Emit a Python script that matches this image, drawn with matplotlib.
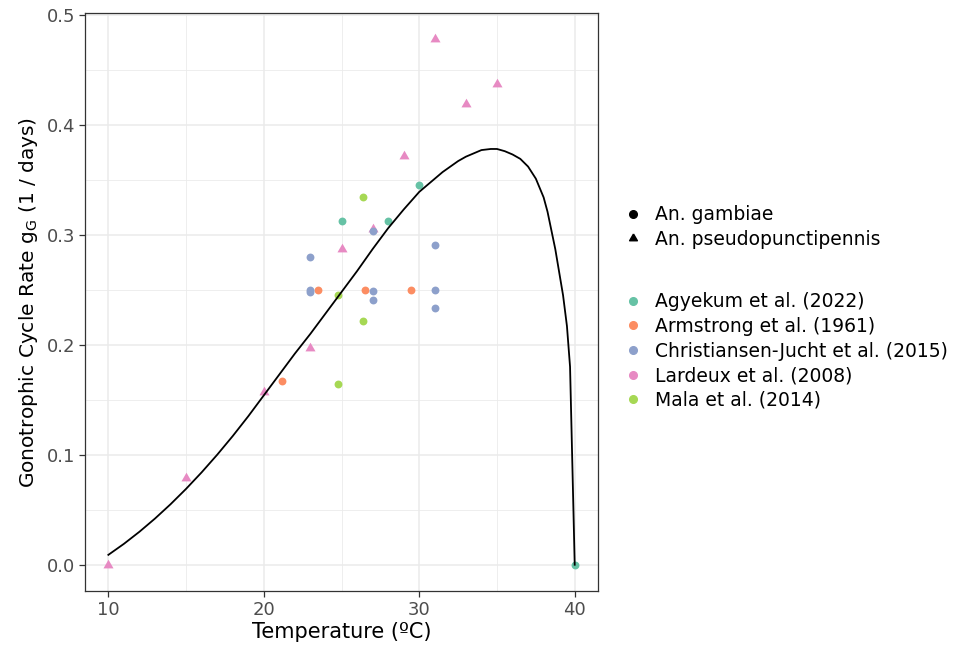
import matplotlib
matplotlib.use("Agg")
import matplotlib.pyplot as plt
from matplotlib.lines import Line2D

plt.rcParams['font.family'] = ['DejaVu Sans']

# observed data, one set per study
agy_t = [25, 28, 30, 40]
agy_g = [0.3125, 0.3125, 0.345, 0.0]

arm_t = [21.2, 23.5, 26.5, 29.5]
arm_g = [0.167, 0.25, 0.25, 0.25]

chr_t = [23, 23, 23, 27, 27, 27, 31, 31, 31]
chr_g = [0.28, 0.25, 0.248, 0.303, 0.249, 0.241, 0.291, 0.25, 0.233]

lar_t = [10, 15, 20, 23, 25, 27, 29, 31, 33, 35]
lar_g = [0.0, 0.079, 0.157, 0.197, 0.287, 0.305, 0.372, 0.478, 0.419, 0.437]

mal_t = [24.8, 24.8, 26.35, 26.35]
mal_g = [0.245, 0.164, 0.334, 0.222]

# fitted curve
fit_t = [10, 11, 12, 13, 14, 15, 16, 17, 18, 19, 20, 21, 22, 23, 24, 25, 26,
         27, 28, 29, 30, 30.5, 31, 31.5, 32, 32.5, 33, 33.5, 34, 34.6, 35,
         35.5, 36, 36.5, 37, 37.5, 38, 38.25, 38.5, 38.75, 39, 39.25, 39.5,
         39.7, 40]
fit_g = [0.009, 0.019, 0.030, 0.042, 0.055, 0.069, 0.084, 0.100, 0.117, 0.135,
         0.154, 0.173, 0.192, 0.210, 0.229, 0.248, 0.267, 0.287, 0.306, 0.323,
         0.339, 0.345, 0.351, 0.357, 0.362, 0.367, 0.371, 0.374, 0.377, 0.378,
         0.378, 0.376, 0.373, 0.369, 0.362, 0.351, 0.334, 0.321, 0.304, 0.287,
         0.266, 0.245, 0.217, 0.180, 0.0]

studies = ['Agyekum et al. (2022)', 'Armstrong et al. (1961)',
           'Christiansen-Jucht et al. (2015)', 'Lardeux et al. (2008)',
           'Mala et al. (2014)']
colors = ['#66C2A5', '#FC8D62', '#8DA0CB', '#E78AC3', '#A6D854']

tri = [(0, 1), (-0.866, -0.5), (0.866, -0.5), (0, 1)]

fig = plt.figure(figsize=(9.61, 6.46), dpi=100)
ax = fig.add_axes([0.0885, 0.0851, 0.5338, 0.8949])

ax.scatter(agy_t, agy_g, s=32, color=colors[0], marker='o', linewidths=0, zorder=3)
ax.scatter(arm_t, arm_g, s=32, color=colors[1], marker='o', linewidths=0, zorder=3)
ax.scatter(lar_t, lar_g, s=70, color=colors[3], marker=tri, linewidths=0, zorder=3)
ax.scatter(chr_t, chr_g, s=32, color=colors[2], marker='o', linewidths=0, zorder=3)
ax.scatter(mal_t, mal_g, s=32, color=colors[4], marker='o', linewidths=0, zorder=3)
ax.plot(fit_t, fit_g, color='black', lw=1.3, zorder=4)

ax.set_xlim(8.5, 41.5)
ax.set_ylim(-0.0239, 0.5017)
ax.set_xticks([10, 20, 30, 40])
ax.set_xticks([15, 25, 35], minor=True)
ax.set_yticks([0.0, 0.1, 0.2, 0.3, 0.4, 0.5])
ax.set_yticks([0.05, 0.15, 0.25, 0.35, 0.45], minor=True)
ax.set_yticklabels(['0.0', '0.1', '0.2', '0.3', '0.4', '0.5'])
ax.grid(which='major', color='#EBEBEB', lw=1.1)
ax.grid(which='minor', color='#EBEBEB', lw=0.6)
ax.set_axisbelow(True)
ax.tick_params(which='major', length=4, width=0.9, color='#333333',
               labelsize=13, labelcolor='#4D4D4D', pad=3)
ax.tick_params(which='minor', length=0)
for sp in ax.spines.values():
    sp.set_color('#333333')
    sp.set_linewidth(0.9)

ax.set_xlabel('Temperature (ºC)', fontsize=15, labelpad=2)
ax.set_ylabel(r'Gonotrophic Cycle Rate $\mathregular{g_G}$ (1 / days)', fontsize=14.5, labelpad=5)

shape_handles = [
    Line2D([], [], ls='none', marker='o', color='black', markersize=5.5),
    Line2D([], [], ls='none', marker=tri, color='black', markersize=6.5),
]
fig.legend(shape_handles, ['An. gambiae', 'An. pseudopunctipennis'],
           loc='upper left', bbox_to_anchor=(0.643, 0.694), frameon=False,
           fontsize=13.5, handlelength=0.8, handletextpad=0.8,
           labelspacing=0.3, borderaxespad=0)

color_handles = [Line2D([], [], ls='none', marker='o', color=c, markersize=5.5)
                 for c in colors]
fig.legend(color_handles, studies, loc='upper left', bbox_to_anchor=(0.643, 0.559),
           frameon=False, fontsize=13.5, handlelength=0.8, handletextpad=0.8,
           labelspacing=0.3, borderaxespad=0)

fig.savefig('out.png', dpi=100)
